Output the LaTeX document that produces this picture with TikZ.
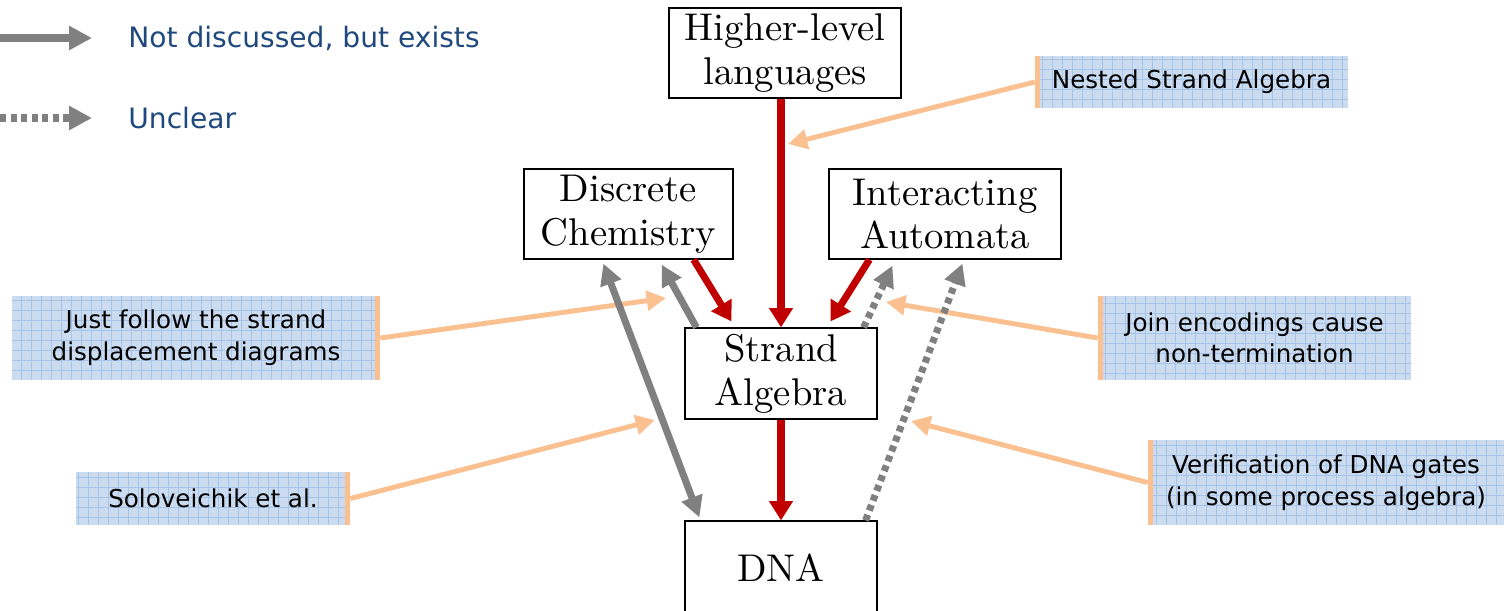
\documentclass[tikz,border=0pt]{standalone}
\usepackage{fontspec}
\newfontfamily\notefont{DejaVu Sans}
\newfontfamily\levelfont{lmroman10-regular.otf}
\usetikzlibrary{arrows.meta,calc}

\definecolor{gatered}{HTML}{C00000}
\definecolor{linkgrey}{HTML}{808080}
\definecolor{noteorange}{HTML}{FAC090}
\definecolor{notefill}{HTML}{CCDCF0}
\definecolor{notegrid}{HTML}{A6C3E8}
\definecolor{legendblue}{HTML}{1F497D}

\tikzset{
    level/.style={draw=black, line width=0.7pt, fill=white, align=center, inner sep=0pt,
        font=\levelfont\fontsize{22}{25}\selectfont},
    note/.style={fill=notefill, align=center, inner sep=0pt,
        font=\notefont\fontsize{14}{18}\selectfont,
        path picture={\draw[notegrid, line width=0.3pt, step=0.2cm]
            (path picture bounding box.south west) grid (path picture bounding box.north east);}},
    notebar/.style={noteorange, line width=3pt},
    legend/.style={anchor=west, inner sep=0pt, text=legendblue,
        font=\notefont\fontsize{16}{19}\selectfont},
    feeds/.style={gatered, line width=4pt, -{Triangle[length=11pt,width=13pt]}},
    exists/.style={linkgrey, line width=4pt, -{Triangle[length=12pt,width=12pt]}},
    unclear/.style={exists, dash pattern=on 3.4pt off 2.6pt},
    remark/.style={noteorange, line width=2.8pt, -{Triangle[length=11pt,width=11pt]}}
}

\begin{document}
\begin{tikzpicture}[x=0.02cm, y=-0.02cm]
    \useasboundingbox (0,0) rectangle (1504,610);

    % legend
    \node[legend] (legsolid) at (128,38) {Not discussed, but exists};
    \node[legend] (legdots) at (128,118) {Unclear};
    \coordinate (solidtail) at (0,38);
    \coordinate (dotstail) at (0,118);
    \draw[exists, line width=4.6pt, -{Triangle[length=13pt,width=13pt]}] (solidtail) -- ($(legsolid.west)+(-36,0)$);
    \draw[unclear, line width=4.6pt, -{Triangle[length=13pt,width=13pt]}] (dotstail) -- ($(legdots.west)+(-36,0)$);

    % formalisms
    \node[level, minimum width=4.64cm, minimum height=1.8cm] (higher) at (785,53) {Higher-level\\languages};
    \node[level, minimum width=4.18cm, minimum height=1.8cm] (chem) at (628.5,214) {Discrete\\Chemistry};
    \node[level, minimum width=4.64cm, minimum height=1.8cm] (auto) at (945,214) {Interacting\\Automata};
    \node[level, minimum width=3.84cm, minimum height=1.82cm] (strand) at (781,373.5) {Strand\\Algebra};
    \node[level, minimum width=3.84cm, minimum height=1.88cm] (dna) at (781,568) {DNA};

    % remarks
    \node[note, minimum width=6.26cm, minimum height=1.04cm] (nested) at (1191.5,82) {Nested Strand Algebra};
    \node[note, minimum width=7.36cm, minimum height=1.68cm] (follow) at (196,338) {Just follow the strand\\displacement diagrams};
    \node[note, minimum width=6.26cm, minimum height=1.68cm] (join) at (1254.5,338) {Join encodings cause\\non-termination};
    \node[note, minimum width=5.48cm, minimum height=1.06cm] (solo) at (213,498.5) {Soloveichik et al.};
    \node[note, minimum width=7.12cm, minimum height=1.7cm] (verify) at (1326,482.5) {Verification of DNA gates\\(in some process algebra)};

    \draw[notebar] ([xshift=1.5pt]nested.north west) -- ([xshift=1.5pt]nested.south west);
    \draw[notebar] ([xshift=-1.5pt]follow.north east) -- ([xshift=-1.5pt]follow.south east);
    \draw[notebar] ([xshift=1.5pt]join.north west) -- ([xshift=1.5pt]join.south west);
    \draw[notebar] ([xshift=-1.5pt]solo.north east) -- ([xshift=-1.5pt]solo.south east);
    \draw[notebar] ([xshift=1.5pt]verify.north west) -- ([xshift=1.5pt]verify.south west);

    \coordinate (nestedtip) at (788,144);
    \coordinate (followtip) at (666,298);
    \coordinate (jointip) at (886,302);
    \coordinate (solotip) at (655,420);
    \coordinate (verifytip) at (911,421);
    \draw[remark] (nested.west) -- (nestedtip);
    \draw[remark] (follow.east) -- (followtip);
    \draw[remark] (join.west) -- (jointip);
    \draw[remark] (solo.east) -- (solotip);
    \draw[remark] (verify.west) -- (verifytip);

    % grey links
    \draw[exists, {Triangle[length=12pt,width=12pt]}-{Triangle[length=12pt,width=12pt]}]
        ($(chem.south west)+(80,4)$) -- ($(dna.north west)+(15,-3)$);
    \draw[exists] ($(strand.north west)+(12,0)$) -- ($(chem.south east)+(-72,5)$);
    \draw[unclear] ($(strand.north east)+(-14,0)$) -- ($(auto.south west)+(64,6)$);
    \draw[unclear] ($(dna.north east)+(-12,0)$) -- ($(auto.south west)+(134,4)$);

    % encodings into strand algebra
    \draw[feeds] (higher.south -| strand.north) -- (strand.north);
    \draw[feeds] ($(chem.south east)+(-40,0)$) -- ($(strand.north west)+(47,-6)$);
    \draw[feeds] ($(auto.south west)+(41,0)$) -- ($(strand.north east)+(-47,-6)$);
    \draw[feeds] (strand.south) -- (dna.north);
\end{tikzpicture}
\end{document}
